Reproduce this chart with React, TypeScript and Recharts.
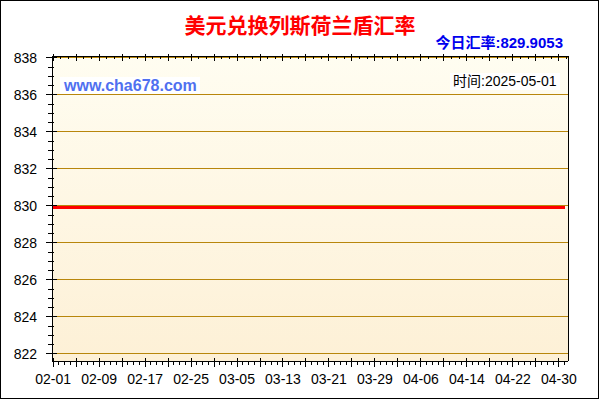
import {
  ComposedChart,
  Line,
  XAxis,
  YAxis,
  CartesianGrid,
  ReferenceLine,
} from "recharts";

const TITLE = "美元兑换列斯荷兰盾汇率";
const TODAY_LABEL = "今日汇率:";
const TODAY_RATE = "829.9053";
const TIME_LABEL = "时间:";
const UPDATE_DATE = "2025-05-01";
const SITE = "www.cha678.com";

const DATES = [
  "02-01", "02-02", "02-03", "02-04", "02-05", "02-06", "02-07", "02-08", "02-09", "02-10",
  "02-11", "02-12", "02-13", "02-14", "02-15", "02-16", "02-17", "02-18", "02-19", "02-20",
  "02-21", "02-22", "02-23", "02-24", "02-25", "02-26", "02-27", "02-28",
  "03-01", "03-02", "03-03", "03-04", "03-05", "03-06", "03-07", "03-08", "03-09", "03-10",
  "03-11", "03-12", "03-13", "03-14", "03-15", "03-16", "03-17", "03-18", "03-19", "03-20",
  "03-21", "03-22", "03-23", "03-24", "03-25", "03-26", "03-27", "03-28", "03-29", "03-30",
  "03-31",
  "04-01", "04-02", "04-03", "04-04", "04-05", "04-06", "04-07", "04-08", "04-09", "04-10",
  "04-11", "04-12", "04-13", "04-14", "04-15", "04-16", "04-17", "04-18", "04-19", "04-20",
  "04-21", "04-22", "04-23", "04-24", "04-25", "04-26", "04-27", "04-28", "04-29", "04-30",
  "05-01",
];

const RATES = [
  829.9053, 829.9053, 829.9053, 829.9053, 829.9053, 829.9053, 829.9053, 829.9053, 829.9053, 829.9053,
  829.9053, 829.9053, 829.9053, 829.9053, 829.9053, 829.9053, 829.9053, 829.9053, 829.9053, 829.9053,
  829.9053, 829.9053, 829.9053, 829.9053, 829.9053, 829.9053, 829.9053, 829.9053,
  829.9053, 829.9053, 829.9053, 829.9053, 829.9053, 829.9053, 829.9053, 829.9053, 829.9053, 829.9053,
  829.9053, 829.9053, 829.9053, 829.9053, 829.9053, 829.9053, 829.9053, 829.9053, 829.9053, 829.9053,
  829.9053, 829.9053, 829.9053, 829.9053, 829.9053, 829.9053, 829.9053, 829.9053, 829.9053, 829.9053,
  829.9053,
  829.9053, 829.9053, 829.9053, 829.9053, 829.9053, 829.9053, 829.9053, 829.9053, 829.9053, 829.9053,
  829.9053, 829.9053, 829.9053, 829.9053, 829.9053, 829.9053, 829.9053, 829.9053, 829.9053, 829.9053,
  829.9053, 829.9053, 829.9053, 829.9053, 829.9053, 829.9053, 829.9053, 829.9053, 829.9053, 829.9053,
  829.9053,
];

const X_LABELS = [
  "02-01", "02-09", "02-17", "02-25", "03-05", "03-13",
  "03-21", "03-29", "04-06", "04-14", "04-22", "04-30",
];

const Y_TICKS = [822, 824, 826, 828, 830, 832, 834, 836, 838];

const data = DATES.map((date, i) => ({ day: i, date, rate: RATES[i] }));

// axis decoration: minor ticks between the labelled ones
const yMinor: number[] = [];
Y_TICKS.forEach((v) => {
  [0, 0.5, 1, 1.5].forEach((s) => {
    if (v + s <= 838) yMinor.push(v + s);
  });
});
const bottomTicks = DATES.map((_, i) => i);
const topTicks: number[] = [];
for (let i = 0; i * (4 / 3) <= 89.6; i++) topTicks.push(i * (4 / 3));

const X_DOMAIN = [-0.2, 89.6];
const Y_DOMAIN = [821.62, 838.1];

const FONT = "'Liberation Sans', Arial, 'Noto Sans CJK SC', sans-serif";
const GRID = "#b8860b";
const CRISP = "crispEdges";

function LeftTick(props: any) {
  const { x, y, payload } = props;
  const major = Y_TICKS.includes(payload.value);
  return (
    <g>
      <line
        x1={major ? x - 6 : x - 4}
        x2={major ? x + 5 : x + 2}
        y1={y}
        y2={y}
        stroke="#000"
        shapeRendering={CRISP}
      />
      {major && (
        <text x={x - 15} y={y + 5} textAnchor="end" fontFamily={FONT} fontSize={14} fill="#000">
          {payload.value}
        </text>
      )}
    </g>
  );
}

function RightTick(props: any) {
  const { x, y, payload } = props;
  const major = Y_TICKS.includes(payload.value);
  return (
    <line
      x1={major ? x - 5 : x}
      x2={major ? x + 1 : x + 5}
      y1={y}
      y2={y}
      stroke="#000"
      shapeRendering={CRISP}
    />
  );
}

function BottomTick(props: any) {
  const { x, y, payload } = props;
  const i = payload.value;
  const major = i % 4 === 0;
  const label = X_LABELS.includes(DATES[i]) ? DATES[i] : null;
  return (
    <g>
      <line
        x1={x}
        x2={x}
        y1={major ? y - 3 : y}
        y2={major ? y + 6 : y + 4}
        stroke="#000"
        shapeRendering={CRISP}
      />
      {label && (
        <text x={x} y={y + 23} textAnchor="middle" fontFamily={FONT} fontSize={14} fill="#000">
          {label}
        </text>
      )}
    </g>
  );
}

function TopTick(props: any) {
  const { x, y, index } = props;
  const major = index % 3 === 0;
  return (
    <line
      x1={x}
      x2={x}
      y1={major ? y - 2 : y}
      y2={major ? y + 5 : y + 3}
      stroke="#000"
      shapeRendering={CRISP}
    />
  );
}

const axisLine = { stroke: "#000", shapeRendering: CRISP };

export default function App() {
  return (
    <div style={{ position: "absolute", left: 0, top: 0, width: 600, height: 400, background: "#fff" }}>
      <ComposedChart
        width={600}
        height={400}
        data={data}
        margin={{ top: 46, right: 12, bottom: 9, left: 8 }}
      >
        <defs>
          <linearGradient id="plotBg" x1="0" y1="0" x2="0" y2="1">
            <stop offset="0%" stopColor="#fffdf1" />
            <stop offset="100%" stopColor="#fdf0d6" />
          </linearGradient>
        </defs>
        <CartesianGrid horizontal={false} vertical={false} fill="url(#plotBg)" fillOpacity={1} />
        {Y_TICKS.map((v) => (
          <ReferenceLine key={v} y={v} stroke={GRID} strokeWidth={1} shapeRendering={CRISP} />
        ))}
        <XAxis
          dataKey="day"
          type="number"
          domain={X_DOMAIN}
          ticks={bottomTicks}
          interval={0}
          height={30}
          tickSize={0}
          tickMargin={0}
          tick={BottomTick}
          axisLine={axisLine}
        />
        <XAxis
          xAxisId="top"
          orientation="top"
          dataKey="day"
          type="number"
          domain={X_DOMAIN}
          ticks={topTicks}
          interval={0}
          height={10}
          tickSize={0}
          tickMargin={0}
          tick={TopTick}
          axisLine={axisLine}
        />
        <YAxis
          type="number"
          domain={Y_DOMAIN}
          ticks={yMinor}
          interval={0}
          width={44}
          tickSize={0}
          tickMargin={0}
          tick={LeftTick}
          axisLine={axisLine}
        />
        <YAxis
          yAxisId="right"
          orientation="right"
          type="number"
          domain={Y_DOMAIN}
          ticks={yMinor}
          interval={0}
          width={20}
          tickSize={0}
          tickMargin={0}
          tick={RightTick}
          axisLine={axisLine}
        />
        <Line
          type="linear"
          dataKey="rate"
          stroke="#ff0000"
          strokeWidth={3}
          dot={false}
          activeDot={false}
          shapeRendering={CRISP}
          isAnimationActive={false}
        />
      </ComposedChart>

      <div
        style={{
          position: "absolute",
          left: 0,
          top: 13,
          width: 600,
          textAlign: "center",
          fontFamily: "'Noto Sans CJK SC', sans-serif",
          fontWeight: 700,
          fontSize: 21,
          lineHeight: "22px",
          color: "#ff0000",
        }}
      >
        {TITLE}
      </div>
      <div
        style={{
          position: "absolute",
          left: 380,
          top: 35,
          width: 183,
          textAlign: "right",
          fontFamily: FONT,
          fontWeight: 700,
          fontSize: 15,
          lineHeight: "16px",
          color: "#0000ee",
          whiteSpace: "nowrap",
        }}
      >
        {TODAY_LABEL}
        {TODAY_RATE}
      </div>
      <div
        style={{
          position: "absolute",
          left: 60,
          top: 77,
          padding: "0 3px 0 4px",
          background: "#fff",
          fontFamily: FONT,
          fontWeight: 700,
          fontSize: 16,
          lineHeight: "17px",
          color: "#5070f0",
          whiteSpace: "nowrap",
        }}
      >
        {SITE}
      </div>
      <div
        style={{
          position: "absolute",
          left: 450,
          top: 73,
          padding: "0 3px",
          background: "#fff",
          fontFamily: FONT,
          fontSize: 14,
          lineHeight: "17px",
          color: "#000",
          whiteSpace: "nowrap",
        }}
      >
        {TIME_LABEL}
        {UPDATE_DATE}
      </div>
      <div
        style={{
          position: "absolute",
          left: 0,
          top: 0,
          width: 599,
          height: 399,
          boxSizing: "border-box",
          border: "1px solid #000",
          pointerEvents: "none",
        }}
      />
    </div>
  );
}
